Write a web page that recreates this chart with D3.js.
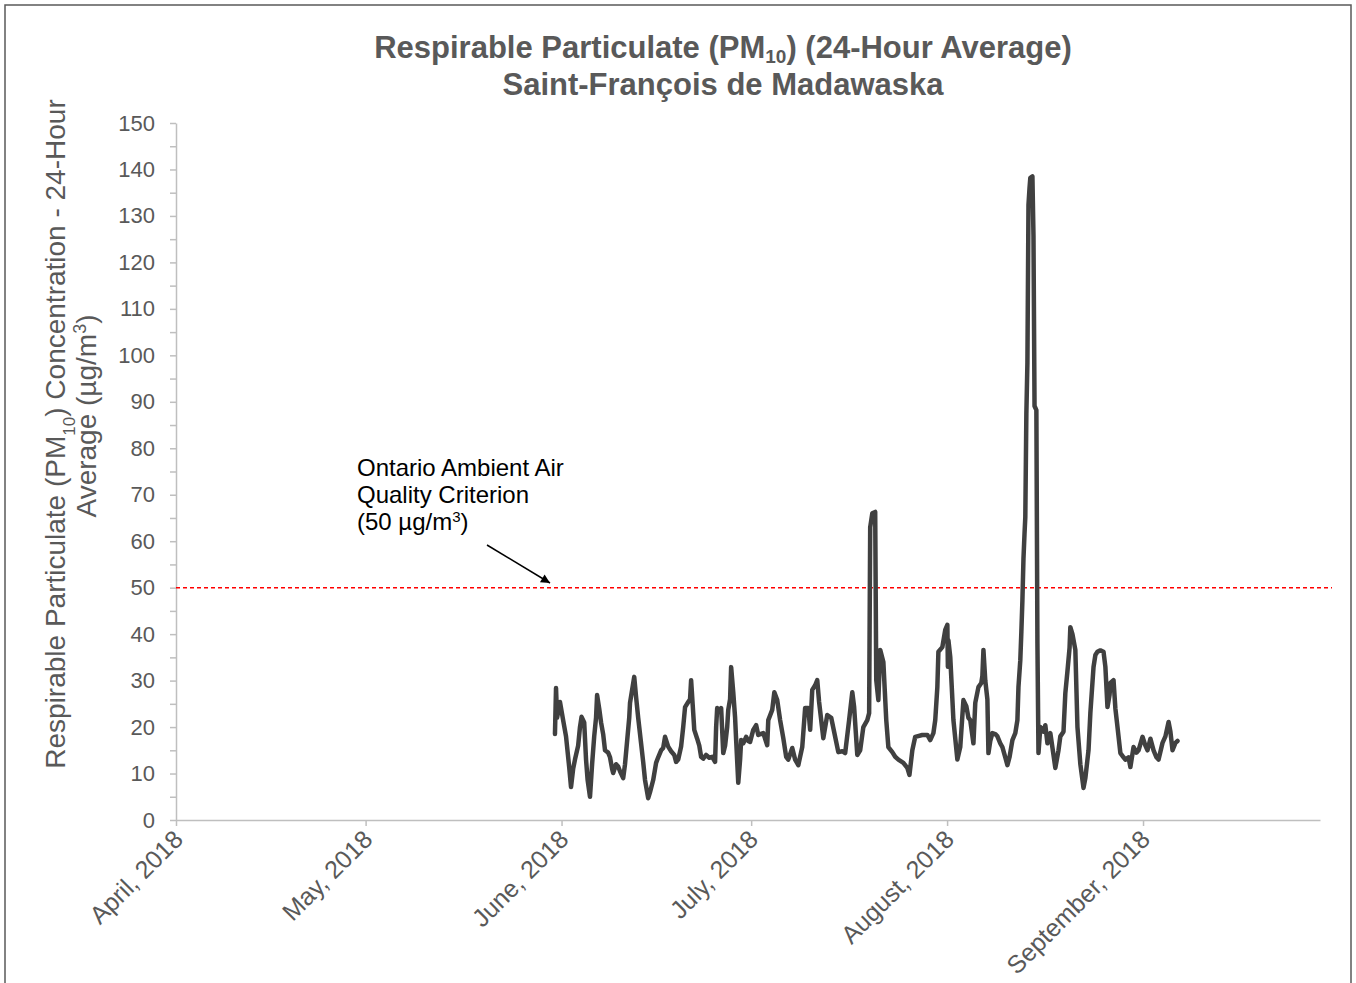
<!DOCTYPE html>
<html>
<head>
<meta charset="utf-8">
<script src="https://d3js.org/d3.v7.min.js"></script>
<style>
    body { margin: 0; background: #ffffff; }
    svg { display: block; font-family: 'Liberation Sans', Arial, sans-serif; }
</style>
</head>
<body>
<svg id="canvas" width="1356" height="983"></svg>
<script>
/** Axis ticks and labels */
const monthTicks = ['2018-04-01', '2018-05-01', '2018-06-01', '2018-07-01', '2018-08-01', '2018-09-01'];
const monthLabels = ['April, 2018', 'May, 2018', 'June, 2018', 'July, 2018', 'August, 2018', 'September, 2018'];
const yTicks = [0, 10, 20, 30, 40, 50, 60, 70, 80, 90, 100, 110, 120, 130, 140, 150];
const yMinorTicks = [5, 15, 25, 35, 45, 55, 65, 75, 85, 95, 105, 115, 125, 135, 145];
const xDomain = ['2018-04-01 00:00', '2018-09-29 00:00'];
const criterion = 50;

/** PM10 24-hour running average */
const times = [
    '2018-05-30 23:00', '2018-05-31 03:00', '2018-05-31 07:00', '2018-05-31 18:00', '2018-06-01 06:00',
    '2018-06-01 17:00', '2018-06-02 05:00', '2018-06-02 12:00', '2018-06-02 20:00', '2018-06-03 03:00',
    '2018-06-03 15:00', '2018-06-03 22:00', '2018-06-04 04:00', '2018-06-04 14:00', '2018-06-04 21:00',
    '2018-06-05 03:00', '2018-06-05 12:00', '2018-06-05 20:00', '2018-06-06 04:00', '2018-06-06 11:00',
    '2018-06-06 15:00', '2018-06-06 23:00', '2018-06-07 06:00', '2018-06-07 14:00', '2018-06-07 21:00',
    '2018-06-08 09:00', '2018-06-08 16:00', '2018-06-09 00:00', '2018-06-09 04:00', '2018-06-09 15:00',
    '2018-06-09 23:00', '2018-06-10 06:00', '2018-06-10 18:00', '2018-06-11 01:00', '2018-06-11 09:00',
    '2018-06-11 17:00', '2018-06-11 20:00', '2018-06-12 04:00', '2018-06-12 12:00', '2018-06-12 19:00',
    '2018-06-13 03:00', '2018-06-13 14:00', '2018-06-13 22:00', '2018-06-14 05:00', '2018-06-14 17:00',
    '2018-06-15 00:00', '2018-06-15 12:00', '2018-06-15 23:00', '2018-06-16 07:00', '2018-06-16 18:00',
    '2018-06-17 02:00', '2018-06-17 09:00', '2018-06-17 21:00', '2018-06-18 08:00', '2018-06-18 20:00',
    '2018-06-19 03:00', '2018-06-19 11:00', '2018-06-19 22:00', '2018-06-20 06:00', '2018-06-20 13:00',
    '2018-06-21 01:00', '2018-06-21 08:00', '2018-06-21 12:00', '2018-06-21 20:00', '2018-06-22 00:00',
    '2018-06-22 11:00', '2018-06-22 19:00', '2018-06-23 02:00', '2018-06-23 10:00', '2018-06-23 21:00',
    '2018-06-24 09:00', '2018-06-24 20:00', '2018-06-25 07:00', '2018-06-25 11:00', '2018-06-25 15:00',
    '2018-06-25 23:00', '2018-06-26 06:00', '2018-06-26 14:00', '2018-06-26 21:00', '2018-06-27 05:00',
    '2018-06-27 09:00', '2018-06-27 16:00', '2018-06-27 20:00', '2018-06-28 04:00', '2018-06-28 11:00',
    '2018-06-28 15:00', '2018-06-28 23:00', '2018-06-29 06:00', '2018-06-29 10:00', '2018-06-29 18:00',
    '2018-06-30 05:00', '2018-06-30 13:00', '2018-06-30 20:00', '2018-07-01 08:00', '2018-07-01 19:00',
    '2018-07-02 03:00', '2018-07-02 22:00', '2018-07-03 13:00', '2018-07-03 17:00', '2018-07-04 08:00',
    '2018-07-04 16:00', '2018-07-05 03:00', '2018-07-05 14:00', '2018-07-06 02:00', '2018-07-06 13:00',
    '2018-07-06 21:00', '2018-07-07 12:00', '2018-07-07 23:00', '2018-07-08 11:00', '2018-07-09 02:00',
    '2018-07-09 13:00', '2018-07-10 01:00', '2018-07-10 08:00', '2018-07-10 16:00', '2018-07-11 03:00',
    '2018-07-11 11:00', '2018-07-11 18:00', '2018-07-12 10:00', '2018-07-13 01:00', '2018-07-13 16:00',
    '2018-07-14 03:00', '2018-07-14 19:00', '2018-07-15 10:00', '2018-07-15 21:00', '2018-07-16 12:00',
    '2018-07-17 00:00', '2018-07-17 07:00', '2018-07-17 19:00', '2018-07-18 06:00', '2018-07-18 18:00',
    '2018-07-19 09:00', '2018-07-19 16:00', '2018-07-19 20:00', '2018-07-20 04:00', '2018-07-20 15:00',
    '2018-07-20 19:00', '2018-07-21 03:00', '2018-07-21 10:00', '2018-07-21 22:00', '2018-07-22 09:00',
    '2018-07-22 17:00', '2018-07-23 08:00', '2018-07-23 19:00', '2018-07-24 07:00', '2018-07-25 02:00',
    '2018-07-25 17:00', '2018-07-26 01:00', '2018-07-26 12:00', '2018-07-26 23:00', '2018-07-28 02:00',
    '2018-07-28 21:00', '2018-07-29 08:00', '2018-07-29 20:00', '2018-07-30 03:00', '2018-07-30 11:00',
    '2018-07-30 15:00', '2018-07-31 06:00', '2018-07-31 17:00', '2018-08-01 01:00', '2018-08-01 03:00',
    '2018-08-01 05:00', '2018-08-01 12:00', '2018-08-02 00:00', '2018-08-02 15:00', '2018-08-03 02:00',
    '2018-08-03 14:00', '2018-08-04 01:00', '2018-08-04 09:00', '2018-08-04 16:00', '2018-08-05 04:00',
    '2018-08-05 11:00', '2018-08-05 23:00', '2018-08-06 10:00', '2018-08-06 14:00', '2018-08-06 18:00',
    '2018-08-07 01:00', '2018-08-07 09:00', '2018-08-07 13:00', '2018-08-07 20:00', '2018-08-08 04:00',
    '2018-08-08 15:00', '2018-08-08 23:00', '2018-08-09 10:00', '2018-08-09 18:00', '2018-08-10 05:00',
    '2018-08-10 13:00', '2018-08-10 21:00', '2018-08-11 08:00', '2018-08-11 19:00', '2018-08-12 03:00',
    '2018-08-12 07:00', '2018-08-12 14:00', '2018-08-12 18:00', '2018-08-12 22:00', '2018-08-13 02:00',
    '2018-08-13 06:00', '2018-08-13 09:00', '2018-08-13 13:00', '2018-08-13 17:00', '2018-08-13 21:00',
    '2018-08-14 01:00', '2018-08-14 04:00', '2018-08-14 12:00', '2018-08-14 16:00', '2018-08-14 20:00',
    '2018-08-15 03:00', '2018-08-15 07:00', '2018-08-15 11:00', '2018-08-15 18:00', '2018-08-16 06:00',
    '2018-08-16 13:00', '2018-08-16 21:00', '2018-08-17 08:00', '2018-08-17 20:00', '2018-08-18 03:00',
    '2018-08-18 15:00', '2018-08-18 22:00', '2018-08-19 10:00', '2018-08-19 17:00', '2018-08-20 01:00',
    '2018-08-20 09:00', '2018-08-20 12:00', '2018-08-20 20:00', '2018-08-21 07:00', '2018-08-21 15:00',
    '2018-08-22 02:00', '2018-08-22 14:00', '2018-08-22 21:00', '2018-08-23 09:00', '2018-08-23 16:00',
    '2018-08-24 04:00', '2018-08-24 11:00', '2018-08-24 19:00', '2018-08-25 06:00', '2018-08-25 18:00',
    '2018-08-26 01:00', '2018-08-26 09:00', '2018-08-26 17:00', '2018-08-26 20:00', '2018-08-27 08:00',
    '2018-08-27 15:00', '2018-08-27 23:00', '2018-08-28 10:00', '2018-08-28 22:00', '2018-08-29 05:00',
    '2018-08-29 17:00', '2018-08-30 00:00', '2018-08-30 12:00', '2018-08-30 23:00', '2018-08-31 07:00',
    '2018-08-31 22:00', '2018-09-01 09:00', '2018-09-01 17:00', '2018-09-02 04:00', '2018-09-02 16:00',
    '2018-09-03 03:00', '2018-09-03 11:00', '2018-09-04 02:00', '2018-09-04 13:00', '2018-09-05 01:00',
    '2018-09-05 08:00', '2018-09-05 16:00', '2018-09-06 03:00', '2018-09-06 11:00'
];

const pm10 = [
    18.5, 28.4, 22, 25.4, 21.5,
    18, 11.4, 7.1, 11, 13,
    16, 20, 22.2, 21, 13,
    8.6, 5, 12, 18, 22,
    26.9, 24, 21, 18.5, 15,
    14.5, 13.5, 11, 10.1, 12,
    11.5, 10.5, 9, 12, 17,
    22, 25.2, 28, 30.8, 26.5,
    22, 16.5, 12.5, 8.6, 4.7,
    6, 8.6, 12.3, 13.5, 15,
    15.5, 17.9, 15.8, 14.8, 14,
    12.5, 13, 15.8, 20, 24.3,
    25.4, 26, 30.1, 23, 19.4,
    17.5, 16, 13.6, 13.2, 14,
    13.4, 13.6, 12.5, 20, 24.1,
    23.5, 24.1, 14.4, 16, 20,
    23.7, 26, 32.9, 27.5, 22,
    17.2, 8, 13, 17.2, 16.5,
    17.9, 17, 16.8, 19.4, 20.4,
    18.3, 18.7, 16.1, 21.5, 23.7,
    27.5, 25.8, 21.5, 17.6, 13.6,
    13, 15.5, 13, 11.8, 15.7,
    24.1, 24.1, 19.4, 28, 29,
    30.1, 25.4, 17.6, 22.6, 22,
    19, 14.6, 14.8, 14.4, 21.5,
    27.5, 24.3, 14, 15, 20,
    21.5, 23, 63, 66, 66.3,
    30.1, 25.8, 36.6, 34, 21.5,
    15.7, 14.6, 13.6, 13, 12.3,
    11.2, 9.7, 15, 17.9, 18.3,
    18.3, 17.2, 18.7, 21.5, 28.6,
    36.2, 37.2, 40.9, 42, 33,
    38.7, 35.1, 21.5, 13, 15.7,
    25.8, 24.5, 22, 21.5, 16.5,
    25.2, 28.6, 29.5, 31, 36.6,
    30, 26, 14.4, 17, 18.7,
    18.5, 18, 16.5, 15.7, 13.5,
    11.8, 13.5, 17.2, 18.7, 21.5,
    28.6, 34.4, 40.5, 47.3, 56.2,
    61.6, 65.2, 87.4, 98.4, 132.3,
    136, 138.2, 138.5, 125.8, 89.1,
    88.2, 38, 14.4, 20, 19,
    20.4, 16.5, 18.7, 14, 11.2,
    15, 18, 19, 27.3, 32,
    37, 41.5, 40, 36.6, 20,
    12, 6.9, 9, 15, 23,
    32.9, 35.5, 36.2, 36.5, 36.2,
    33, 24.3, 27, 29.5, 30.1,
    24, 20, 14.4, 13.5, 13,
    13.5, 11.4, 15.7, 14.5, 15,
    17.9, 16, 15, 17.5, 15,
    13.5, 13, 16.6, 18, 21.1,
    19, 15, 16.6, 17
];

/** Select the canvas area */
const canvas = d3.select('#canvas');

const parseDay = d3.timeParse('%Y-%m-%d');
const parseHour = d3.timeParse('%Y-%m-%d %H:%M');

const series = times.map((t, i) => ({ t: parseHour(t), v: pm10[i] }));

/** Plot area */
const plotLeft = 176, plotRight = 1320, plotTop = 123, plotBottom = 820;

const x = d3.scaleTime()
    .domain(xDomain.map(parseHour))
    .range([plotLeft, plotRight]);

const y = d3.scaleLinear()
    .domain([0, 150])
    .range([plotBottom, plotTop]);

const gray = '#595959';
const axisGray = '#bfbfbf';

/** White background and chart border */
canvas.append('rect')
    .attr('width', 1356).attr('height', 983)
    .attr('fill', '#ffffff');

canvas.append('rect')
    .attr('x', 5).attr('y', 5)
    .attr('width', 1346).attr('height', 1010)
    .attr('fill', 'none')
    .attr('stroke', '#595959')
    .attr('stroke-width', 1.5);

/** Y axis: major + minor ticks */
const yAxis = canvas.append('g')
    .attr('transform', `translate(${plotLeft},0)`)
    .call(d3.axisLeft(y).tickValues(yTicks).tickSize(6).tickSizeOuter(0).tickPadding(15));

canvas.append('g')
    .attr('transform', `translate(${plotLeft},0)`)
    .call(d3.axisLeft(y).tickValues(yMinorTicks).tickSize(6).tickSizeOuter(0).tickFormat(''))
    .select('.domain').remove();

yAxis.selectAll('text')
    .attr('fill', gray)
    .style('font-size', '22px');

/** X axis with rotated month labels */
const xAxis = canvas.append('g')
    .attr('transform', `translate(0,${plotBottom})`)
    .call(d3.axisBottom(x)
        .tickValues(monthTicks.map(parseDay))
        .tickFormat((d, i) => monthLabels[i])
        .tickSize(6)
        .tickSizeOuter(0));

xAxis.selectAll('text')
    .attr('x', 0).attr('y', 0).attr('dy', 0)
    .attr('text-anchor', 'end')
    .attr('transform', 'translate(8,21) rotate(-45)')
    .attr('fill', gray)
    .style('font-size', '25px');

canvas.selectAll('.domain, .tick line')
    .attr('stroke', axisGray)
    .attr('stroke-width', 1.5);

/** Criterion line (dashed red) */
canvas.append('line')
    .attr('x1', plotLeft).attr('x2', plotRight + 12)
    .attr('y1', y(criterion)).attr('y2', y(criterion))
    .attr('stroke', '#ff0000')
    .attr('stroke-width', 1.5)
    .attr('stroke-dasharray', '4,3');

/** PM10 line */
canvas.append('path')
    .datum(series)
    .attr('d', d3.line().x(d => x(d.t)).y(d => y(d.v)))
    .attr('fill', 'none')
    .attr('stroke', '#404040')
    .attr('stroke-width', 4.5)
    .attr('stroke-linejoin', 'round')
    .attr('stroke-linecap', 'round');

/** Title */
const title = canvas.append('text')
    .attr('x', 723).attr('y', 58)
    .attr('text-anchor', 'middle')
    .attr('fill', gray)
    .style('font-size', '31px')
    .style('font-weight', 'bold');
title.append('tspan').text('Respirable Particulate (PM');
title.append('tspan').attr('baseline-shift', '-5px').style('font-size', '19px').text('10');
title.append('tspan').text(') (24-Hour Average)');

canvas.append('text')
    .attr('x', 723).attr('y', 95)
    .attr('text-anchor', 'middle')
    .attr('fill', gray)
    .style('font-size', '31px')
    .style('font-weight', 'bold')
    .text('Saint-François de Madawaska');

/** Y axis title (two lines) */
const yTitle1 = canvas.append('text')
    .attr('transform', 'translate(65,434) rotate(-90)')
    .attr('text-anchor', 'middle')
    .attr('fill', gray)
    .style('font-size', '28px');
yTitle1.append('tspan').text('Respirable Particulate (PM');
yTitle1.append('tspan').attr('baseline-shift', 'sub').style('font-size', '17px').text('10');
yTitle1.append('tspan').text(') Concentration - 24-Hour');

const yTitle2 = canvas.append('text')
    .attr('transform', 'translate(96,416) rotate(-90)')
    .attr('text-anchor', 'middle')
    .attr('fill', gray)
    .style('font-size', '28px');
yTitle2.append('tspan').text('Average (µg/m');
yTitle2.append('tspan').attr('baseline-shift', 'super').style('font-size', '18px').text('3');
yTitle2.append('tspan').text(')');

/** Annotation with arrow */
const note = canvas.append('text')
    .attr('fill', '#000000')
    .style('font-size', '24px');
note.append('tspan').attr('x', 357).attr('y', 476).text('Ontario Ambient Air');
note.append('tspan').attr('x', 357).attr('y', 503).text('Quality Criterion');
const note3 = note.append('tspan').attr('x', 357).attr('y', 530);
note3.append('tspan').text('(50 µg/m');
note3.append('tspan').attr('baseline-shift', 'super').style('font-size', '15px').text('3');
note3.append('tspan').text(')');

canvas.append('defs').append('marker')
    .attr('id', 'arrow')
    .attr('viewBox', '0 0 10 10')
    .attr('refX', 10).attr('refY', 5)
    .attr('markerWidth', 12).attr('markerHeight', 9)
    .attr('markerUnits', 'userSpaceOnUse')
    .attr('orient', 'auto')
    .append('path')
    .attr('d', 'M0,0 L10,5 L0,10 Z')
    .attr('fill', '#000000');

canvas.append('line')
    .attr('x1', 487).attr('y1', 545)
    .attr('x2', 550).attr('y2', 583)
    .attr('stroke', '#000000')
    .attr('stroke-width', 1.5)
    .attr('marker-end', 'url(#arrow)');
</script>
</body>
</html>
